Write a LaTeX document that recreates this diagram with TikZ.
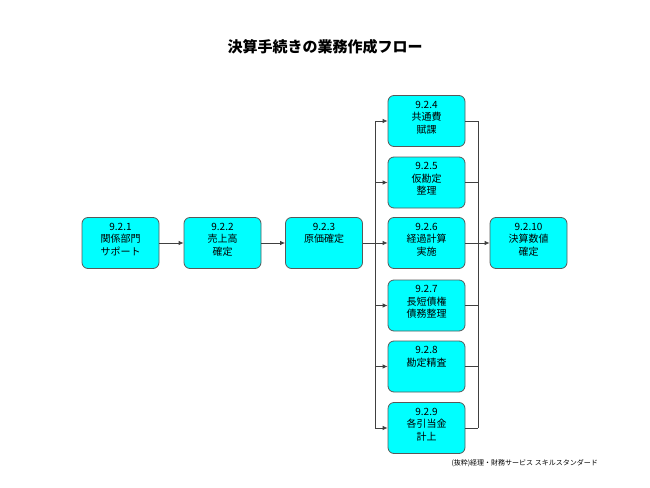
\documentclass[tikz,border=0pt]{standalone}
\usepackage{fontspec}
\setmainfont{Noto Sans CJK JP}
\usetikzlibrary{arrows.meta}
\definecolor{boxcyan}{RGB}{0,255,255}
\begin{document}
\begin{tikzpicture}[x=1pt,y=-1pt,
  box/.style={draw=black!65, fill=boxcyan, rounded corners=6pt, minimum width=77pt, minimum height=51pt, inner sep=0pt, line width=0.8pt},
  lbl/.style={anchor=north, align=center, font=\fontsize{10}{12.5}\selectfont, inner sep=0pt},
  conn/.style={draw=black!75, line width=0.8pt},
  arr/.style={conn, -{Latex[length=5pt,width=4.5pt]}}]
\path[use as bounding box] (0,0) rectangle (650,487);
\node[font=\fontsize{15}{18}\selectfont\bfseries] (title) at (325,47) {決算手続きの業務作成フロー};
% boxes
\node[box] (b1) at (120.5,243) {};
\node[box] (b2) at (222.5,243) {};
\node[box] (b3) at (324,243) {};
\node[box] (b4) at (426.5,121) {};
\node[box] (b5) at (426.5,182.5) {};
\node[box] (b6) at (426.5,243) {};
\node[box] (b7) at (426.5,305.5) {};
\node[box] (b8) at (426.5,366.5) {};
\node[box] (b9) at (426.5,428) {};
\node[box] (b10) at (528.5,243) {};
% labels
\node[lbl] (t1) at ([yshift=-5.5pt]b1.north) {9.2.1\\関係部門\\サポート};
\node[lbl] (t2) at ([yshift=-5.5pt]b2.north) {9.2.2\\売上高\\確定};
\node[lbl] (t3) at ([yshift=-5.5pt]b3.north) {9.2.3\\原価確定};
\node[lbl] (t4) at ([yshift=-5.5pt]b4.north) {9.2.4\\共通費\\賦課};
\node[lbl] (t5) at ([yshift=-5.5pt]b5.north) {9.2.5\\仮勘定\\整理};
\node[lbl] (t6) at ([yshift=-5.5pt]b6.north) {9.2.6\\経過計算\\実施};
\node[lbl] (t7) at ([yshift=-5.5pt]b7.north) {9.2.7\\長短債権\\債務整理};
\node[lbl] (t8) at ([yshift=-5.5pt]b8.north) {9.2.8\\勘定精査};
\node[lbl] (t9) at ([yshift=-5.5pt]b9.north) {9.2.9\\各引当金\\計上};
\node[lbl] (t10) at ([yshift=-5.5pt]b10.north) {9.2.10\\決算数値\\確定};
% footnote
\node[font=\fontsize{7}{8}\selectfont, anchor=east, inner sep=0pt] (note) at (598,463) {(抜粋)経理・財務サービス スキルスタンダード};
% connectors
\draw[arr] (b1.east) -- (b2.west);
\draw[arr] (b2.east) -- (b3.west);
\coordinate (lt) at (375,121);
\coordinate (lb) at (375,428);
\coordinate (rt) at (478,121);
\coordinate (rb) at (478,428);
\draw[conn] (lt) -- (lb);
\draw[conn] (rt) -- (rb);
\draw[conn] (b3.east) -- (b3.east -| lt);
\foreach \b in {b4,b5,b6,b7,b8,b9}{
  \draw[arr] (\b.west -| lt) -- (\b.west);
  \draw[conn] (\b.east) -- (\b.east -| rt);
}
\draw[arr] (b10.west -| rt) -- (b10.west);
\end{tikzpicture}
\end{document}
